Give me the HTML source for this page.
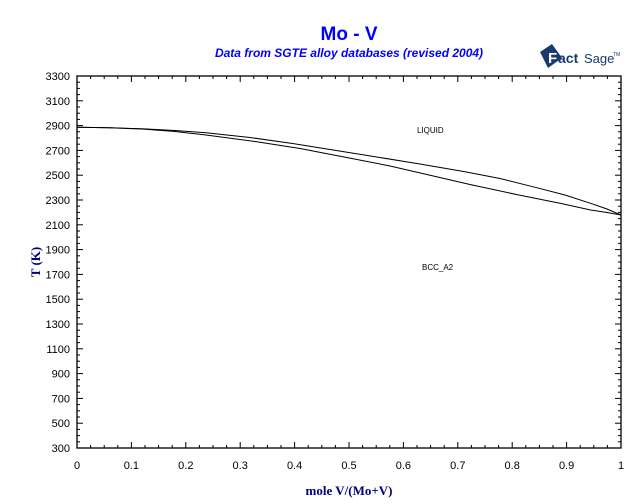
<!DOCTYPE html><html><head><style>body{margin:0;background:#fff}svg{display:block}</style></head><body>
<svg width="640" height="504" xmlns="http://www.w3.org/2000/svg" font-family="Liberation Sans, sans-serif">
<text x="349" y="40" text-anchor="middle" font-size="19" font-weight="bold" fill="#0000ff">Mo - V</text>
<text x="349" y="57" text-anchor="middle" font-size="12" font-style="italic" font-weight="bold" fill="#0000ff">Data from SGTE alloy databases (revised 2004)</text>
<g fill="#1a3a6e"><polygon points="540,52 552,44 562,58 548,68"/><text x="548" y="63" font-size="15" font-weight="bold" fill="#fff">F</text><text x="558" y="63" font-size="14" font-weight="bold">act</text><text x="584" y="63" font-size="13">Sage</text><text x="613" y="56" font-size="5">TM</text></g>
<rect x="77" y="76" width="544" height="372" fill="none" stroke="#000" stroke-width="1.3"/>
<g stroke="#000" stroke-width="1" id="t"></g>
<g font-size="11" fill="#000" text-anchor="end" id="yl"></g>
<g font-size="11" fill="#000" text-anchor="middle" id="xl"></g>
<text x="349" y="495" text-anchor="middle" font-family="Liberation Serif, serif" font-weight="bold" font-size="13" fill="#000080">mole V/(Mo+V)</text>
<text transform="translate(40,262) rotate(-90)" text-anchor="middle" font-family="Liberation Serif, serif" font-weight="bold" font-size="13" fill="#000080">T (K)</text>
<text x="417" y="133" font-size="8">LIQUID</text>
<text x="422" y="270" font-size="8">BCC_A2</text>
<polyline points="77,127.3 110,127.8 142,128.8 175,130.5 206,132.8 250,137.5 292.6,143.5 330,149.5 364.4,155 420,164 465,171.7 500,178.5 536.7,187.7 565,195 590.6,203.3 607,209 621,215" fill="none" stroke="#000"/>
<polyline points="77,127.3 110,127.8 142,129 175,131.5 206,135 256.7,141.7 300,148.5 342.8,156.7 390,166 429,175 470,184.5 518.8,195 560,203.3 590.6,210 607,212.5 621,215" fill="none" stroke="#000"/>
<script>
var t=document.getElementById('t'),yl=document.getElementById('yl'),xl=document.getElementById('xl'),n='http://www.w3.org/2000/svg';
function L(a,b,c,d){var e=document.createElementNS(n,'line');e.setAttribute('x1',a);e.setAttribute('y1',b);e.setAttribute('x2',c);e.setAttribute('y2',d);t.appendChild(e);}
function T(g,x,y,s){var e=document.createElementNS(n,'text');e.setAttribute('x',x);e.setAttribute('y',y);e.textContent=s;g.appendChild(e);}
for(var i=0;i<=40;i++){var x=77+544*i/40,len=i%4==0?6:3;L(x,448,x,448-len);L(x,76,x,76+len);if(i%4==0)T(xl,x,469,i==0?'0':i==40?'1':(i/40).toFixed(1));}
for(var v=300;v<=3300;v+=50){var y=448-(v-300)*0.124,len=(v-300)%200==0?6:3;L(77,y,77+len,y);L(621,y,621-len,y);if((v-300)%200==0)T(yl,70,y+4,v);}
</script>
</svg></body></html>
